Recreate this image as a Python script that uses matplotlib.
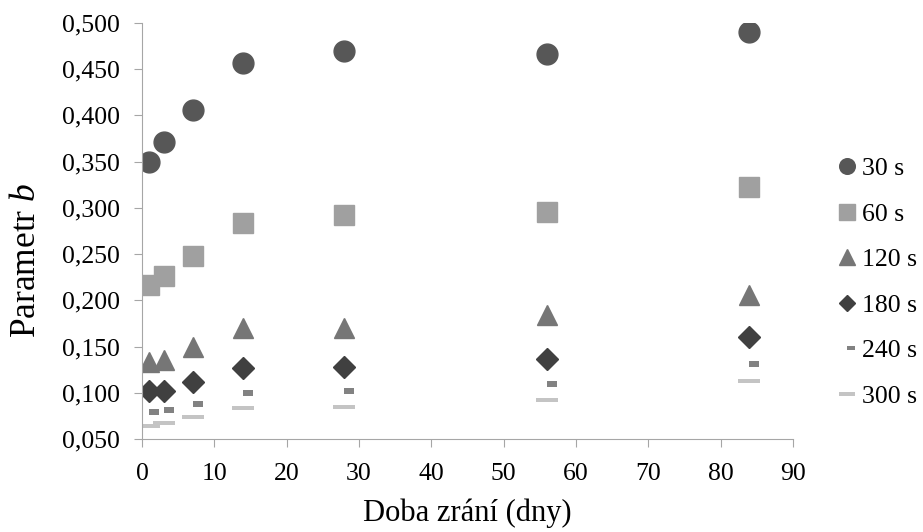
import numpy as np
import matplotlib.pyplot as plt
import matplotlib.ticker as ticker
from matplotlib.path import Path

plt.rcParams['font.family'] = ['Liberation Serif', 'DejaVu Serif']
plt.rcParams['mathtext.fontset'] = 'custom'
plt.rcParams['mathtext.rm'] = 'Liberation Serif'
plt.rcParams['mathtext.it'] = 'Liberation Serif:italic'

days = [1, 3, 7, 14, 28, 56, 84]
b30 = [0.350, 0.371, 0.406, 0.457, 0.470, 0.466, 0.490]
b60 = [0.217, 0.226, 0.248, 0.284, 0.292, 0.296, 0.323]
b120 = [0.133, 0.135, 0.150, 0.170, 0.170, 0.184, 0.206]
b180 = [0.102, 0.102, 0.112, 0.127, 0.128, 0.137, 0.160]
b240 = [0.079, 0.081, 0.088, 0.100, 0.102, 0.109, 0.131]
b300 = [0.064, 0.067, 0.074, 0.083, 0.085, 0.092, 0.113]

# excel style dash markers
dash_long = Path([(-1, -0.22), (1, -0.22), (1, 0.22), (-1, 0.22), (-1, -0.22)], closed=True)
dash_short = Path([(0, -0.25), (1, -0.25), (1, 0.25), (0, 0.25), (0, -0.25)], closed=True)

fig = plt.figure(figsize=(9.23, 5.32), dpi=100)
ax = fig.add_axes([0.1538, 0.1748, 0.7052, 0.782])

ax.plot(days, b30, 'o', ms=15, color='#575757', mec='#575757', label='30 s')
ax.plot(days, b60, 's', ms=15, color='#a0a0a0', mec='#a0a0a0', label='60 s')
ax.plot(days, b120, '^', ms=15, color='#767676', mec='#767676', label='120 s')
ax.plot(days, b180, 'D', ms=11, color='#404040', mec='#404040', label='180 s')
ax.plot(days, b240, ls='none', marker=dash_short, ms=14.5, color='#828282', mew=0, label='240 s')
ax.plot(days, b300, ls='none', marker=dash_long, ms=16, color='#c4c4c4', mew=0, label='300 s')

ax.set_xlim(0, 90)
ax.set_ylim(0.05, 0.5)
ax.xaxis.set_major_locator(ticker.MultipleLocator(10))
ax.yaxis.set_major_locator(ticker.MultipleLocator(0.05))
ax.yaxis.set_major_formatter(ticker.FuncFormatter(lambda v, p: f'{v:.3f}'.replace('.', ',')))

for s in ['top', 'right']:
    ax.spines[s].set_visible(False)
for s in ['left', 'bottom']:
    ax.spines[s].set_color('#a6a6a6')
ax.tick_params(axis='both', colors='#a6a6a6', labelcolor='black', labelsize=18.5, length=6)
ax.tick_params(axis='y', pad=10)
ax.tick_params(axis='x', pad=11)

ax.set_xlabel('Doba zrání (dny)', fontsize=22, labelpad=10)
ax.set_ylabel('Parametr $\\it{b}$', fontsize=25.5)
ax.yaxis.set_label_coords(-0.152, 0.43)

leg = ax.legend(loc='upper left', bbox_to_anchor=(0.893, 0.729), bbox_transform=fig.transFigure,
                frameon=False, fontsize=18.5, markerscale=0.75, handlelength=0.8,
                handletextpad=0.18, labelspacing=0.88, borderpad=0)

fig.savefig('out.png', dpi=100)
